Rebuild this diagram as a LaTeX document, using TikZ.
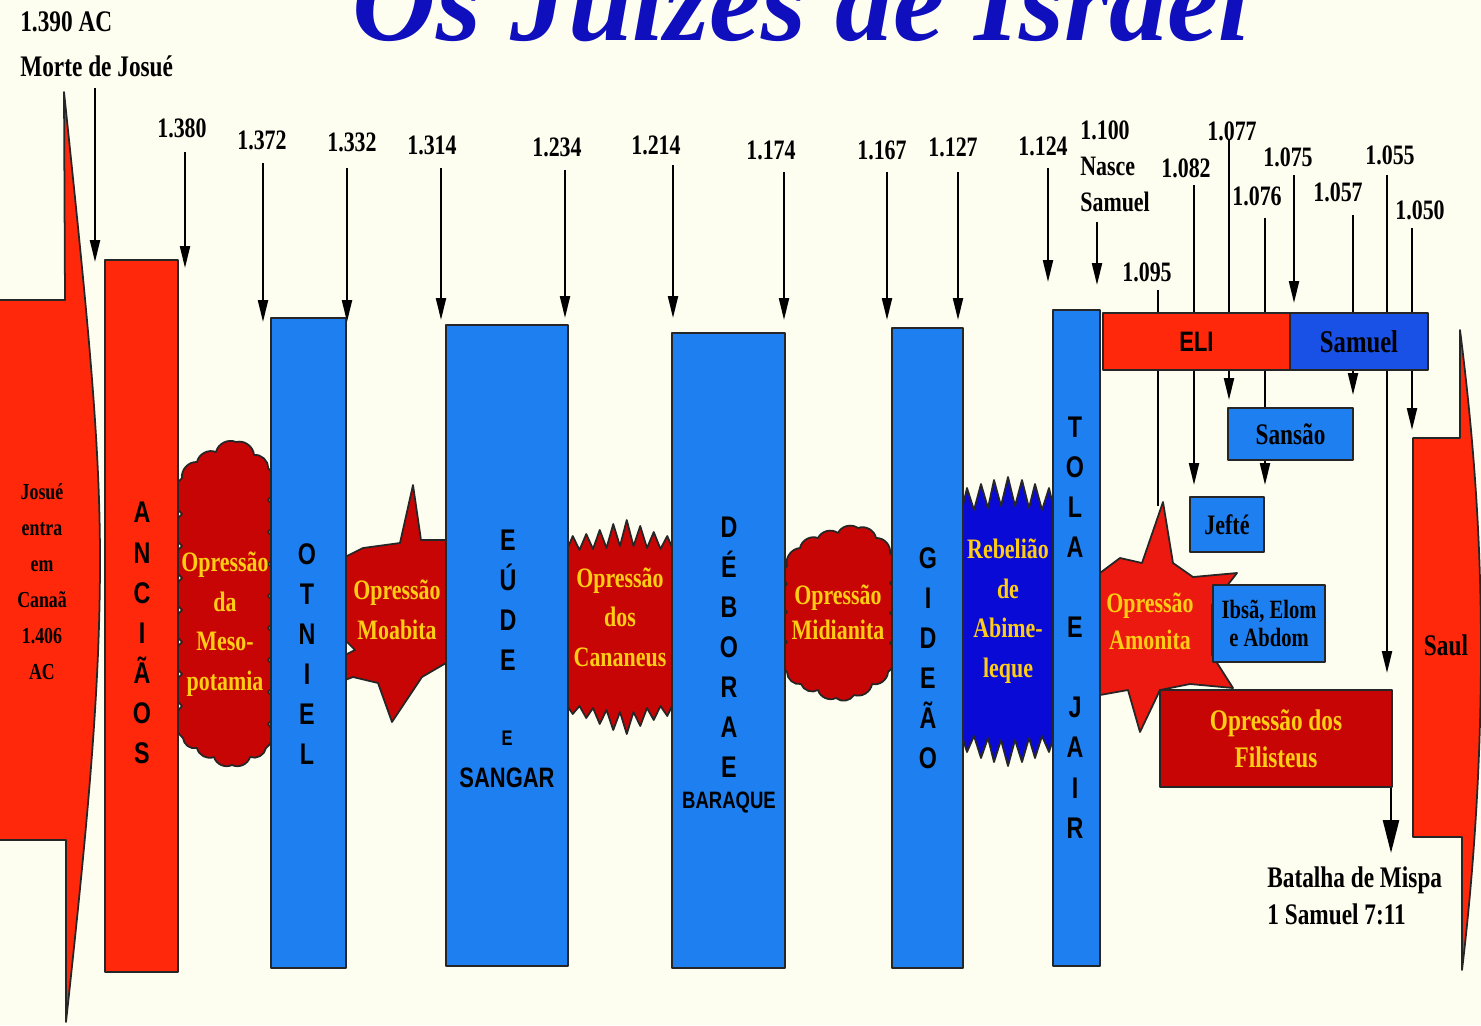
\documentclass[tikz,border=0pt]{standalone}
\usepackage{fontspec}
\setmainfont{Liberation Serif}
\newfontfamily\calf[FakeStretch=0.78]{Liberation Serif}
\newfontfamily\blkf[FakeStretch=0.78]{Liberation Sans}
\usetikzlibrary{arrows.meta,fit}
\definecolor{bg}{RGB}{253,253,240}
\definecolor{rred}{RGB}{255,40,10}
\definecolor{amred}{RGB}{235,25,15}
\definecolor{dred}{RGB}{200,5,5}
\definecolor{bblue}{RGB}{30,128,240}
\definecolor{sblue}{RGB}{25,80,230}
\definecolor{dblue}{RGB}{10,10,215}
\definecolor{ylw}{RGB}{255,205,20}
\definecolor{ttlblue}{RGB}{15,15,190}
\newcommand\jtick[4]{\coordinate (#1s) at (#2,#3);\coordinate (#1e) at (#2,#4);\draw[arr] (#1s) -- (#1e);}
\newcommand\jline[4]{\coordinate (#1s) at (#2,#3);\coordinate (#1e) at (#2,#4);\draw[plainln] (#1s) -- (#1e);}
\begin{document}
\begin{tikzpicture}[x=0.02cm,y=-0.02cm,line join=round,
  outl/.style={draw=black!85,line width=1pt},
  bar/.style={outl,fill=bblue,inner sep=0pt},
  rbar/.style={bar,fill=rred},
  redshape/.style={outl,fill=rred},
  blob/.style={outl,fill=dred},
  bl/.style={bend left=50},
  arr/.style={line width=1.2pt,-{Triangle[length=0.44cm,width=0.2cm]}},
  bigarr/.style={line width=1.4pt,-{Triangle[length=0.66cm,width=0.32cm]}},
  plainln/.style={line width=1.2pt},
  lab/.style={font=\calf\bfseries\fontsize{16}{20}\selectfont,inner sep=0pt,align=left},
  blk/.style={font=\calf\bfseries\fontsize{17}{21}\selectfont,inner sep=0pt,align=center},
  vert/.style={font=\blkf\bfseries\fontsize{17}{22.8}\selectfont,align=center,inner sep=0pt},
  ytxt/.style={font=\calf\bfseries\fontsize{16}{22.5}\selectfont,text=ylw,align=center,inner sep=0pt},
  ttl/.style={font=\bfseries\itshape\fontsize{66}{70}\selectfont,text=ttlblue,inner sep=0pt}]
\fill[bg] (0,0) rectangle (1481,1025);
\useasboundingbox (0,0) rectangle (1481,1025);
% title, cut by the top edge
\begin{scope}
\clip (0,0) rectangle (1481,1025);
\node[ttl,anchor=base west] (title) at (352,40) {Os Juízes de Israel};
\end{scope}
% Josue arrow
\draw[redshape] (-2,300) -- (65,300) -- (64,92) .. controls (88,320) and (100,440) .. (100,560) .. controls (100,690) and (88,820) .. (66,1022) -- (66,840) -- (-2,840) -- cycle;
\node[blk,font=\calf\bfseries\fontsize{13}{20.5}\selectfont] (josue) at (42,582) {Josué\\entra\\em\\Canaã\\1.406\\AC};
% Saul arrow
\draw[redshape] (1413,438) -- (1460,438) -- (1460,330) .. controls (1474,440) and (1481,540) .. (1481,650) .. controls (1481,760) and (1474,870) .. (1462,970) -- (1462,837) -- (1413,837) -- cycle;
\node[blk] (saul) at (1446,645) {Saul};
% oppressions
\draw[blob] (182,478) to[bl] (197,462) to[bl] (216,452) to[bl] (236,442) to[bl] (254,455) to[bl] (268,468)
  to[bl] (268,500) to[bl] (268,532) to[bl] (268,564) to[bl] (268,596) to[bl] (268,628) to[bl] (268,660) to[bl] (268,692) to[bl] (268,724) to[bl] (266,748)
  to[bl] (250,757) to[bl] (232,765) to[bl] (214,757) to[bl] (197,748) to[bl] (183,738)
  to[bl] (182,706) to[bl] (182,674) to[bl] (182,642) to[bl] (182,610) to[bl] (182,578) to[bl] (182,546) to[bl] (182,514) to[bl] (182,478) -- cycle;
\coordinate (meso) at (225,624);
\draw[blob] (345,557) -- (363,548) -- (400,543) -- (413,485) -- (421,540) -- (446,540) -- (446,663) -- (422,677) -- (392,722) -- (378,683) -- (353,677) -- (345,680) -- (345,655) -- (355,650) -- (345,640) -- cycle;
\draw[blob] (566,552) -- (572.75,536) -- (579.5,550) -- (586.25,534) -- (593,549) -- (599.75,530) -- (606.5,548) -- (613.25,524) -- (620,546) -- (626.75,520) -- (633.5,546) -- (640.25,526) -- (647,548) -- (653.75,532) -- (660.5,549) -- (667.25,536) -- (674,552)
 -- (674,702) -- (667.25,716) -- (660.5,706) -- (653.75,720) -- (647,708) -- (640.25,726) -- (633.5,712) -- (626.75,734) -- (620,712) -- (613.25,730) -- (606.5,710) -- (599.75,724) -- (593,708) -- (586.25,718) -- (579.5,706) -- (572.75,714) -- (566,704) -- cycle;
\draw[blob] (787,566) to[bl] (800,548) to[bl] (818,538) to[bl] (838,533) to[bl] (858,528) to[bl] (876,538) to[bl] (890,553)
  to[bl] (890,583) to[bl] (890,613) to[bl] (890,643) to[bl] (888,672)
  to[bl] (872,684) to[bl] (854,695) to[bl] (836,698) to[bl] (818,690) to[bl] (801,684) to[bl] (787,672)
  to[bl] (787,642) to[bl] (787,612) to[bl] (787,584) to[bl] (787,566) -- cycle;
\coordinate (midian) at (838,612);
\draw[outl,fill=dblue] (960,518) -- (967,488) -- (974,510) -- (981,484) -- (988,508) -- (994,480) -- (1001,506) -- (1008,477) -- (1015,506) -- (1022,480) -- (1029,508) -- (1035,484) -- (1042,510) -- (1049,488) -- (1056,518)
 -- (1056,730) -- (1049,752) -- (1042,736) -- (1035,758) -- (1029,738) -- (1022,762) -- (1015,740) -- (1008,766) -- (1001,740) -- (994,762) -- (988,738) -- (981,758) -- (974,736) -- (967,752) -- (960,730) -- cycle;
% date lines and arrows
\jtick{amorte}{95}{88}{262}
\jtick{a1380}{185}{152}{268}
\jtick{a1372}{263}{163}{322}
\jtick{a1332}{347}{168}{322}
\jtick{a1314}{441}{168}{320}
\jtick{a1234}{565}{170}{318}
\jtick{a1214}{673}{165}{318}
\jtick{a1174}{784}{172}{320}
\jtick{a1167}{887}{172}{320}
\jtick{a1127}{958}{172}{320}
\jtick{a1124}{1048}{168}{282}
\jtick{a1100}{1097}{222}{285}
\jline{a1095}{1158}{290}{506}
\jtick{a1082}{1194}{185}{485}
\jtick{a1077}{1229}{140}{400}
\jline{a1076}{1265}{218}{408}
\jtick{a1075}{1294}{175}{303}
\jtick{a1057}{1353}{215}{395}
\jtick{a1055}{1387}{175}{673}
\jtick{a1050}{1412}{228}{430}
% Amonita
\draw[outl,fill=amred] (1100,573) -- (1120,558) -- (1142,563) -- (1163,502) -- (1173,563) -- (1193,577) -- (1237,573) -- (1212,605) -- (1212,655) -- (1233,688) -- (1190,684) -- (1160,690) -- (1140,732) -- (1128,690) -- (1100,695) -- cycle;
% bars and boxes
\node[rbar,fit={(105,260) (178,972)}] (ancioes) {};
\node[bar,fit={(271,318) (346,968)}] (otniel) {};
\node[bar,fit={(446,325) (568,966)}] (eude) {};
\node[bar,fit={(672,333) (785,968)}] (debora) {};
\node[bar,fit={(892,328) (963,968)}] (gideao) {};
\node[bar,fit={(1053,310) (1100,966)}] (tola) {};
\node[rbar,fit={(1103,313) (1290,370)}] (eli) {};
\node[bar,fill=sblue,fit={(1290,313) (1428,370)}] (samuel) {};
\node[bar,fit={(1228,408) (1353,460)}] (sansao) {};
\node[bar,fit={(1190,497) (1264,552)}] (jefte) {};
\node[bar,fit={(1213,585) (1325,662)}] (ibsa) {};
\node[bar,fill=dred,fit={(1160,690) (1392,787)}] (filisteus) {};
\coordinate (sj) at (1265,485);
\draw[arr] (sansao.south -| sj) -- (sj);
\coordinate (bm) at (1391,853);
\draw[bigarr] (filisteus.south -| bm) -- (bm);
% texts in boxes
\node[vert] (tanc) at (142,633) {A\\N\\C\\I\\Ã\\O\\S};
\node[vert] (tot) at (307,654) {O\\T\\N\\I\\E\\L};
\node[vert] (teu) at (508,600) {E\\Ú\\D\\E};
\node[vert,font=\blkf\bfseries\fontsize{12}{14}\selectfont] (te1) at (507,738) {E};
\node[vert,font=\blkf\bfseries\fontsize{16}{18}\selectfont] (tsan) at (507,778) {SANGAR};
\node[vert] (tdeb) at (729,647) {D\\É\\B\\O\\R\\A\\E};
\node[vert,font=\blkf\bfseries\fontsize{13.5}{16}\selectfont] (tbar) at (729,803) {BARAQUE};
\node[vert] (tgid) at (928,658) {G\\I\\D\\E\\Ã\\O};
\node[vert] (ttola) at (1075,627.5) {T\\O\\L\\A\\\phantom{E}\\E\\\phantom{E}\\J\\A\\I\\R};
\node[vert,font=\blkf\bfseries\fontsize{16}{18}\selectfont] at (eli) {ELI};
\node[blk,font=\calf\bfseries\fontsize{18}{20}\selectfont] at (samuel) {Samuel};
\node[blk] at (sansao) {Sansão};
\node[blk,font=\calf\bfseries\fontsize{16}{20}\selectfont] at (jefte) {Jefté};
\node[blk,font=\calf\bfseries\fontsize{15}{16}\selectfont] at (ibsa) {Ibsã, Elom\\e Abdom};
\node[ytxt,font=\calf\bfseries\fontsize{17}{21}\selectfont] at (filisteus) {Opressão dos\\Filisteus};
\node[ytxt] (tmeso) at (meso) {Opressão\\da\\Meso-\\potamia};
\node[ytxt] (tmoab) at (397,610) {Opressão\\Moabita};
\node[ytxt] (tcan) at (620,617) {Opressão\\dos\\Cananeus};
\node[ytxt,font=\calf\bfseries\fontsize{16}{20}\selectfont] (tmid) at (midian) {Opressão\\Midianita};
\node[ytxt] (tabi) at (1008,611) {Rebelião\\de\\Abime-\\leque};
\node[ytxt,font=\calf\bfseries\fontsize{16}{21}\selectfont] (tamo) at (1150,621) {Opressão\\Amonita};
% date labels
\node[lab,font=\calf\bfseries\fontsize{17}{25.6}\selectfont,anchor=west] (lmorte) at (20,44) {1.390 AC\\Morte de Josué};
\node[lab] (l1380) at (182,128) {1.380};
\node[lab] (l1372) at (262,140) {1.372};
\node[lab] (l1332) at (352,142) {1.332};
\node[lab] (l1314) at (432,145) {1.314};
\node[lab] (l1234) at (557,147) {1.234};
\node[lab] (l1214) at (656,145) {1.214};
\node[lab] (l1174) at (771,150) {1.174};
\node[lab] (l1167) at (882,150) {1.167};
\node[lab] (l1127) at (953,147) {1.127};
\node[lab] (l1124) at (1043,146) {1.124};
\node[lab,anchor=west,font=\calf\bfseries\fontsize{16}{20.5}\selectfont] (l1100) at (1080,166) {1.100\\Nasce\\Samuel};
\node[lab] (l1082) at (1186,168) {1.082};
\node[lab] (l1077) at (1232,131) {1.077};
\node[lab] (l1076) at (1257,196) {1.076};
\node[lab] (l1075) at (1288,157) {1.075};
\node[lab] (l1057) at (1338,192) {1.057};
\node[lab] (l1055) at (1390,155) {1.055};
\node[lab] (l1050) at (1420,210) {1.050};
\node[lab] (l1095) at (1147,272) {1.095};
\node[lab,font=\calf\bfseries\fontsize{17}{21}\selectfont,anchor=west] (lmispa) at (1267,896) {Batalha de Mispa\\1 Samuel 7:11};
\end{tikzpicture}
\end{document}
